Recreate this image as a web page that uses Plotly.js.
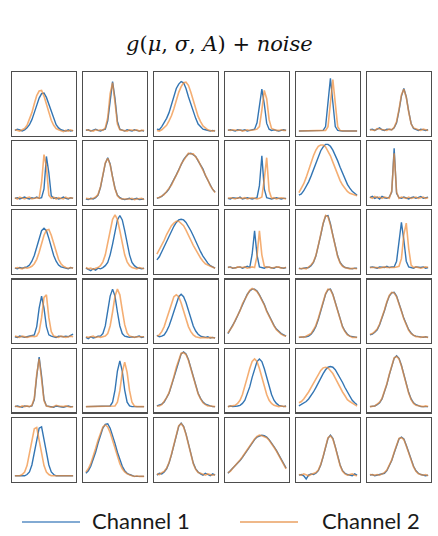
<!DOCTYPE html>
<html>
<head>
<meta charset="utf-8">
<script src="https://cdn.plot.ly/plotly-3.0.1.min.js"></script>
<style>
  html, body { margin: 0; padding: 0; background: #fff; }
  #chart { width: 438px; height: 536px; }
</style>
</head>
<body>
<div id="chart"></div>
<script>
// sample index along each trace
const samples = [0,1,2,3,4,5,6,7,8,9,10,11,12,13,14,15,16,17,18,19,20,21,22,23,24];

// Channel 1 (blue), one array per panel, read row by row (% of panel height)
const channel1 = [
  // row 1
  [8,10,9,7,9,12,17,25,36,48,59,66,67,60,49,36,25,17,12,9,8,7,9,7,8],
  [8,9,7,8,10,8,7,9,10,23,59,85,58,22,10,8,7,9,8,7,9,8,7,8,7],
  [10,9,14,20,27,36,49,63,74,81,85,83,74,61,49,38,27,18,14,10,9,8,7,8,7],
  [8,9,8,7,9,8,8,9,7,8,9,10,20,51,73,50,19,10,8,9,8,7,8,9,8],
  [7,7,7,7,7,7,7,7,7,7,8,14,52,90,52,14,8,7,7,7,7,7,7,7,7],
  [9,10,8,10,12,9,8,10,9,9,12,20,39,62,74,61,38,19,11,9,8,10,9,8,9],
  // row 2
  [10,11,9,10,12,10,9,11,10,12,10,11,25,76,50,14,10,11,9,10,12,10,9,11,10],
  [9,8,10,9,11,15,27,45,65,74,64,44,26,15,11,9,8,9,10,8,9,10,8,9,9],
  [10,12,13,17,20,25,32,38,47,55,63,71,76,80,81,79,76,69,63,56,46,38,31,24,20],
  [10,9,11,10,10,12,9,10,11,10,9,10,11,30,77,25,11,10,9,10,11,10,9,10,10],
  [15,17,22,28,36,45,55,66,76,85,91,95,95,92,86,78,69,59,49,40,32,26,21,18,15],
  [11,13,10,12,9,13,11,10,12,20,89,18,11,10,12,11,9,11,12,10,11,13,10,11,12],
  // row 3
  [9,8,10,9,10,11,14,20,29,42,56,68,72,68,56,42,29,20,14,11,10,9,8,10,9],
  [9,7,5,8,6,9,8,10,13,18,30,47,68,85,92,85,68,47,30,18,13,10,9,8,9],
  [22,27,35,43,51,60,68,75,81,85,86,85,81,75,68,60,51,43,35,28,22,17,13,11,9],
  [10,11,9,10,10,11,9,10,12,10,31,68,30,11,10,9,11,10,10,9,11,10,10,9,10],
  [9,8,9,10,10,13,18,28,43,61,79,91,92,79,61,43,28,18,13,10,9,9,8,9,9],
  [10,11,10,9,11,10,10,12,10,11,11,20,53,81,53,20,11,10,9,11,10,10,11,9,10],
  // row 4
  [10,9,11,10,9,10,11,12,13,26,55,74,55,26,13,11,10,9,11,10,10,11,10,12,14],
  [9,7,10,8,9,11,11,15,27,49,74,85,74,49,27,15,11,10,9,10,9,10,11,9,10],
  [12,10,11,13,19,27,38,51,64,73,77,73,64,51,38,27,19,14,11,10,9,10,8,9,8],
  [15,21,28,35,43,52,61,69,77,82,85,85,82,76,69,61,51,43,35,28,22,18,15,13,11],
  [9,9,10,10,11,14,19,26,37,51,65,77,84,85,77,65,51,37,26,19,14,11,10,9,9],
  [13,14,17,21,29,39,51,64,74,79,80,74,64,51,39,29,21,16,12,11,10,9,9,10,9],
  // row 5
  [9,10,9,8,10,9,9,10,20,57,87,57,20,10,9,9,8,10,9,9,8,9,10,9,9],
  [9,9,9,10,9,9,9,10,9,9,10,16,35,65,81,65,35,16,10,9,9,9,9,9,9],
  [10,11,13,16,22,30,42,55,70,83,92,95,92,83,70,55,42,30,22,16,13,11,10,9,9],
  [9,10,9,9,10,11,14,19,28,40,55,69,80,84,80,69,55,40,28,19,14,11,10,9,10],
  [10,12,14,17,21,26,32,39,47,54,61,67,71,72,71,67,61,54,47,39,32,26,19,15,12],
  [9,9,10,12,15,21,31,44,59,74,85,89,85,74,59,44,31,21,15,12,10,9,9,9,9],
  // row 6
  [9,9,9,9,9,11,15,26,44,67,84,86,67,44,26,15,11,9,9,9,9,9,9,9,9],
  [13,17,24,34,46,60,73,84,90,91,84,73,60,46,34,24,17,13,11,9,8,8,8,8,8],
  [10,13,12,15,20,29,42,58,75,87,92,87,75,58,42,29,20,15,12,10,13,11,9,12,10],
  [13,17,20,24,28,33,38,44,50,56,62,66,70,72,73,72,70,66,61,55,49,42,35,28,21],
  [10,11,9,4,10,12,11,13,17,26,39,55,68,73,68,55,39,26,17,13,11,10,9,12,10],
  [10,11,9,10,11,11,13,17,24,33,45,57,67,70,67,57,45,33,24,17,13,11,10,9,10]
];

// Channel 2 (orange)
const channel2 = [
  // row 1
  [9,8,7,9,11,16,25,36,50,63,70,71,62,49,35,24,16,11,9,8,6,8,7,9,7],
  [9,8,8,7,9,8,9,8,12,28,66,83,52,18,9,8,8,7,9,8,8,9,7,8,8],
  [8,7,9,12,16,23,31,42,56,68,77,83,84,79,68,54,42,30,22,15,12,9,8,7,8],
  [9,8,9,8,8,9,7,8,9,8,8,9,10,14,40,71,58,25,11,9,8,8,9,8,8],
  [7,7,7,7,7,7,7,7,7,7,7,8,14,51,88,51,14,8,7,7,7,7,7,7,7],
  [9,9,8,11,10,9,9,8,10,9,13,22,41,64,73,60,37,18,12,10,9,8,10,9,8],
  // row 2
  [11,9,12,10,9,11,12,9,10,11,10,35,79,60,15,10,12,9,11,10,9,12,10,11,10],
  [10,9,9,10,12,16,28,47,66,73,63,43,25,14,10,9,9,8,9,10,8,9,9,10,8],
  [11,11,14,16,21,26,31,39,46,54,64,70,77,81,80,80,75,70,62,55,47,39,30,25,19],
  [10,11,10,9,11,10,10,11,9,10,11,10,9,10,12,40,74,22,10,11,9,10,11,10,9],
  [19,25,33,43,55,67,77,86,92,94,94,91,85,77,67,57,47,38,31,25,21,18,17,15,14],
  [12,10,13,11,12,10,12,11,10,22,81,20,10,12,11,10,12,10,11,12,10,11,12,10,11],
  // row 3
  [9,10,9,8,10,9,10,12,16,23,34,48,61,69,70,61,48,34,23,16,12,10,9,10,9],
  [10,8,9,7,9,10,13,19,30,47,68,86,93,86,68,47,30,19,13,10,9,8,10,9,8],
  [31,38,45,53,62,69,76,80,83,83,80,76,69,62,53,45,38,31,25,20,16,14,12,10,9],
  [11,10,10,9,11,10,10,11,9,10,11,10,28,68,30,12,10,11,9,10,10,11,9,10,10],
  [8,9,9,8,11,14,19,29,45,63,80,92,90,77,60,42,27,17,12,10,9,8,9,9,8],
  [10,10,11,10,9,10,11,10,10,9,10,11,12,24,62,80,40,14,10,11,10,9,10,11,10],
  // row 4
  [11,10,9,11,10,9,10,11,10,11,18,40,72,76,40,18,11,10,9,11,10,9,10,11,10],
  [10,9,10,11,9,10,9,10,11,15,27,49,74,85,76,52,29,16,11,10,9,10,10,11,10],
  [11,13,18,26,38,51,63,73,76,73,63,51,38,26,18,13,10,9,8,9,8,8,9,8,8],
  [16,22,27,36,44,51,62,70,76,83,86,84,81,75,68,60,50,42,34,27,21,17,14,12,11],
  [9,10,9,11,12,15,21,28,39,53,67,78,85,84,76,63,49,36,25,18,13,11,9,9,9],
  [14,15,18,22,30,40,52,65,75,80,79,73,63,50,38,28,20,15,12,10,10,9,10,9,9],
  // row 5
  [10,9,8,10,9,10,9,11,22,60,84,52,18,10,9,8,9,11,10,9,9,10,9,8,9],
  [9,9,9,9,10,9,9,9,9,10,9,9,10,16,34,63,79,63,34,16,10,9,9,9,9],
  [10,10,12,17,23,31,43,56,71,84,93,94,91,82,69,54,41,29,21,15,12,10,10,9,9],
  [9,10,10,11,14,19,28,40,55,69,80,84,80,69,55,40,28,19,14,11,10,9,10,9,9],
  [15,17,21,26,32,39,46,54,61,66,70,71,70,66,61,54,46,39,32,26,20,17,14,12,10],
  [9,10,10,13,16,22,32,45,60,75,86,88,84,73,58,43,30,20,14,11,10,9,9,10,9],
  // row 6
  [9,9,9,11,15,25,44,66,83,85,66,44,25,15,11,9,9,9,9,9,9,9,9,9,9],
  [15,20,28,39,52,65,77,86,89,86,77,65,52,39,28,20,15,12,10,9,8,9,8,8,8],
  [12,11,14,16,21,30,43,59,76,88,91,86,74,57,41,28,19,14,13,11,10,12,11,10,11],
  [14,16,21,25,29,34,39,45,51,57,62,67,71,73,72,71,69,65,60,54,48,41,34,27,20],
  [11,10,12,10,9,11,12,14,18,27,40,56,69,72,67,54,38,25,16,12,10,11,12,10,9],
  [11,10,10,11,10,12,14,18,25,34,46,58,68,69,66,56,44,32,23,16,12,11,10,11,9]
];

const legendNames = ['Channel 1', 'Channel 2'];
const titleText = '<i>g</i>(<i>μ</i>, <i>σ</i>, <i>A</i>) + <i>noise</i>';

// grid geometry in page pixels
const W = 438, H = 536;
const NCOLS = 6, NROWS = 6;
const colLeft = 12, colPitch = 71, panelW = 64;
const rowTop = 72, rowPitch = 69.2, panelH = 63.5;

const BLUE = 'rgba(40,110,175,0.95)';
const ORANGE = 'rgba(240,140,55,0.7)';

const traces = [];
const layout = {
  width: W, height: H,
  margin: { l: 0, r: 0, t: 0, b: 0 },
  paper_bgcolor: 'white',
  plot_bgcolor: 'white',
  showlegend: false,
  annotations: [],
  shapes: []
};

for (let k = 0; k < NROWS * NCOLS; k++) {
  const r = Math.floor(k / NCOLS), c = k % NCOLS;
  const n = k + 1;
  const xa = 'x' + n, ya = 'y' + n;

  traces.push({ x: samples, y: channel1[k], xaxis: xa, yaxis: ya, mode: 'lines',
    line: { color: BLUE, width: 1.4 }, hoverinfo: 'skip' });
  traces.push({ x: samples, y: channel2[k], xaxis: xa, yaxis: ya, mode: 'lines',
    line: { color: ORANGE, width: 1.6 }, hoverinfo: 'skip' });

  const x0 = colLeft + c * colPitch;
  const y0 = rowTop + r * rowPitch;
  const axisBase = {
    showticklabels: false, ticks: '', showgrid: false, zeroline: false,
    showline: true, mirror: true, linecolor: '#4d4d4d', linewidth: 1.3, fixedrange: true
  };
  layout['xaxis' + (n === 1 ? '' : n)] = {
    ...axisBase, anchor: ya, range: [-1.2, 25.2],
    domain: [x0 / W, (x0 + panelW) / W]
  };
  layout['yaxis' + (n === 1 ? '' : n)] = {
    ...axisBase, anchor: xa, range: [0, 100],
    domain: [1 - (y0 + panelH) / H, 1 - y0 / H]
  };
}

// title
layout.annotations.push({
  text: titleText, xref: 'paper', yref: 'paper', x: 0.5, y: 1 - 44 / H,
  xanchor: 'center', yanchor: 'middle', showarrow: false,
  font: { family: 'DejaVu Serif, serif', size: 21, color: '#111' }
});

// legend drawn by hand so the line samples match the long strokes
const legendY = 1 - 522 / H;
const legendItems = [
  { color: 'rgba(70,130,190,0.9)', x0: 22, x1: 80, tx: 90 },
  { color: 'rgba(232,150,80,0.9)', x0: 240, x1: 298, tx: 320 }
];
legendItems.forEach((it, i) => {
  layout.shapes.push({ type: 'line', xref: 'paper', yref: 'paper',
    x0: it.x0 / W, x1: it.x1 / W, y0: legendY, y1: legendY,
    line: { color: it.color, width: 1.5 } });
  layout.annotations.push({ text: legendNames[i], xref: 'paper', yref: 'paper',
    x: it.tx / W, y: legendY + 0.002, xanchor: 'left', yanchor: 'middle', showarrow: false,
    font: { family: 'Lato, sans-serif', size: 22, color: '#1a1a1a' } });
});

Plotly.newPlot('chart', traces, layout, { staticPlot: true, displayModeBar: false });
</script>
</body>
</html>
